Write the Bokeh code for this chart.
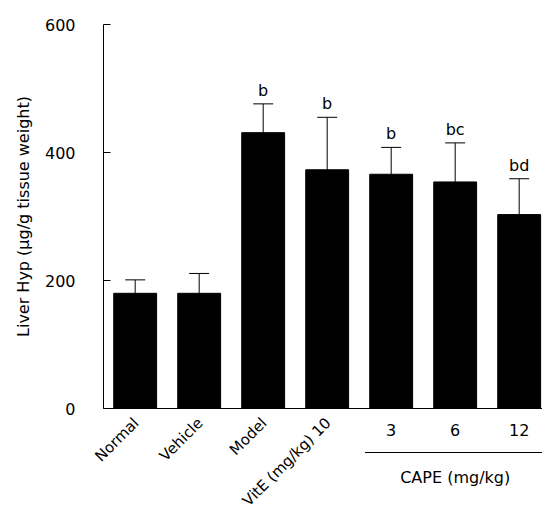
import numpy as np
from bokeh.plotting import figure
from bokeh.models import (ColumnDataSource, Range1d, FixedTicker, LabelSet,
                          Whisker, TeeHead, LinearAxis)
from bokeh.core.properties import value
from bokeh.embed import file_html
from bokeh.resources import INLINE

groups = ["Normal", "Vehicle", "Model", "VitE (mg/kg) 10", "3", "6", "12"]
means = [180, 180, 431, 373, 366, 354, 303]
errors = [21, 31, 45, 82, 42, 61, 56]
sig = ["", "", "b", "b", "b", "bc", "bd"]
rotated = [True, True, True, True, False, False, False]
cape_label = "CAPE (mg/kg)"
y_ticks = [0, 200, 400, 600]
y_max = 600

FONT = "DejaVu Sans"
W, H = 542, 510
LEFT = 103          # pixel of the y axis
TOP = 24            # pixel of y = 600
BASE = 408          # pixel of y = 0
PX_PER_CAT = 64.0
X0 = -0.495         # data x at the y axis
PX_PER_Y = (BASE - TOP) / y_max

idx = list(range(len(groups)))
src = ColumnDataSource(dict(
    x=idx, top=means, upper=[m + e for m, e in zip(means, errors)], sig=sig,
))
rot_src = ColumnDataSource(dict(
    x=[i for i, r in zip(idx, rotated) if r],
    y=[0] * sum(rotated),
    t=[g for g, r in zip(groups, rotated) if r],
))
hor_src = ColumnDataSource(dict(
    x=[i for i, r in zip(idx, rotated) if not r],
    y=[0] * (len(groups) - sum(rotated)),
    t=[g for g, r in zip(groups, rotated) if not r],
))

x_start = X0 - LEFT / PX_PER_CAT
x_end = x_start + W / PX_PER_CAT
y_start = -(H - BASE) / PX_PER_Y
y_end = y_max + TOP / PX_PER_Y

p = figure(width=W, height=H, output_backend="svg", toolbar_location=None,
           x_range=Range1d(x_start, x_end), y_range=Range1d(y_start, y_end),
           x_axis_location=None, y_axis_location=None,
           min_border_left=0, min_border_right=0, min_border_top=0,
           min_border_bottom=0)
p.outline_line_color = None
p.xgrid.visible = False
p.ygrid.visible = False

p.vbar(x="x", top="top", bottom=0, width=0.67, source=src,
       fill_color="black", line_color="black")

p.add_layout(Whisker(source=src, base="x", lower="top", upper="upper",
                     dimension="height", line_color="black", line_width=1,
                     lower_head=None,
                     upper_head=TeeHead(size=20, line_color="black", line_width=1)))

p.add_layout(LabelSet(x="x", y="upper", text="sig", source=src, y_offset=8,
                      text_align="center", text_baseline="alphabetic",
                      text_font=value(FONT), text_font_size="16px",
                      text_color="black"))

# y axis at a fixed location
yax = LinearAxis(fixed_location=X0, bounds=(0, y_max))
yax.ticker = FixedTicker(ticks=y_ticks)
yax.major_tick_in = 7
yax.major_tick_out = 0
yax.minor_tick_line_color = None
yax.major_label_standoff = 28
yax.major_label_text_font = FONT
yax.major_label_text_font_size = "16px"
yax.major_label_text_color = "black"
yax.axis_label = "Liver Hyp (\u00b5g/g tissue weight)"
yax.axis_label_text_font = FONT
yax.axis_label_text_font_size = "16px"
yax.axis_label_text_font_style = "normal"
yax.axis_label_text_color = "black"
yax.axis_label_standoff = 9
yax.axis_line_color = "black"
yax.major_tick_line_color = "black"
p.add_layout(yax, "left")

# x axis line at y = 0
xax = LinearAxis(fixed_location=0, bounds=(X0, x_end))
xax.ticker = FixedTicker(ticks=[])
xax.major_tick_line_color = None
xax.minor_tick_line_color = None
xax.major_label_text_font_size = "0px"
xax.axis_line_color = "black"
p.add_layout(xax, "below")

# category labels
p.text(x="x", y="y", text="t", source=rot_src, angle=np.pi / 4,
       x_offset=1, y_offset=12, text_align="right", text_baseline="middle",
       text_font=value(FONT), text_font_size="15px", text_color="black")
p.text(x="x", y="y", text="t", source=hor_src, y_offset=21,
       text_align="center", text_baseline="middle",
       text_font=value(FONT), text_font_size="16px", text_color="black")

cape_idx = [i for i, r in zip(idx, rotated) if not r]
p.line(x=[cape_idx[0] - 0.41, cape_idx[-1] + 0.6], y=[-44 / PX_PER_Y] * 2,
       line_color="black", line_width=1)
p.text(x=[float(np.mean(cape_idx))], y=[-69 / PX_PER_Y], text=[cape_label],
       text_align="center", text_baseline="middle",
       text_font=value(FONT), text_font_size="16px", text_color="black")

open("out.html", "w").write(file_html(p, INLINE))
